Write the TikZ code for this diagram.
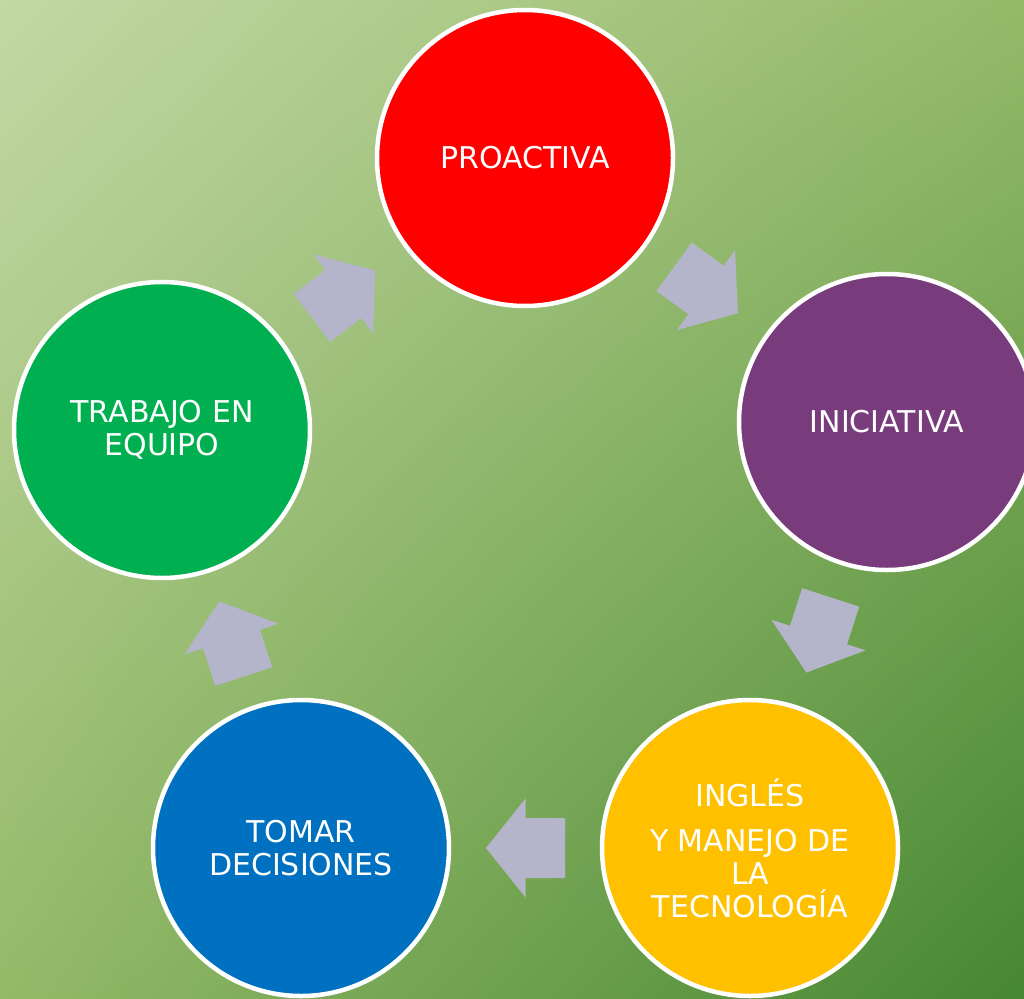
\documentclass[tikz,border=0pt]{standalone}
\usepackage{fontspec}
\setmainfont{DejaVu Sans}
\usepackage{tikz}
\usetikzlibrary{calc, shadings}
\definecolor{rojo}{RGB}{255,0,0}
\definecolor{morado}{RGB}{120,60,125}
\definecolor{amarillo}{RGB}{255,192,0}
\definecolor{azul}{RGB}{0,112,192}
\definecolor{verde}{RGB}{0,176,80}
\definecolor{gris}{RGB}{180,180,202}
\definecolor{fondoA}{RGB}{195,216,165}
\definecolor{fondoB}{RGB}{148,186,104}
\definecolor{fondoC}{RGB}{70,135,50}
\tikzstyle{circulo} = [circle, minimum size=296pt, draw=white, line width=4.5pt, text=white, align=center, font=\fontsize{30}{33}\selectfont]
\tikzstyle{flecha}  = [fill=gris]

\begin{document}
\begin{tikzpicture}[x=1pt, y=1pt]
  \useasboundingbox (0,0) rectangle (1024,-998);
  \clip (0,0) rectangle (1024,-998);
  \shade[upper left=fondoA, upper right=fondoB, lower left=fondoB, lower right=fondoC] (0,0) rectangle (1024,-998);
  \node[circulo, fill=rojo]     (pro) at (525,-158) {PROACTIVA};
  \node[circulo, fill=morado]   (ini) at (887,-422) {INICIATIVA};
  \node[circulo, fill=amarillo] (ing) at (750,-848) {INGLÉS\\[12pt] Y MANEJO DE\\ LA\\ TECNOLOGÍA};
  \node[circulo, fill=azul]     (tom) at (301,-848) {TOMAR\\ DECISIONES};
  \node[circulo, fill=verde]    (tra) at (162,-430) {TRABAJO EN\\ EQUIPO};
  \foreach \from/\to/\ang in {pro/ini/-36, ini/ing/-108, ing/tom/180, tom/tra/108, tra/pro/37} {
      \begin{scope}[shift={($(\from)!0.5!(\to)$)}, rotate=\ang]
        \fill[flecha] (-39.5,-30) -- (0,-30) -- (0,-49.5) -- (39.5,0) -- (0,49.5) -- (0,30) -- (-39.5,30) -- cycle;
      \end{scope}
  }
\end{tikzpicture}
\end{document}
